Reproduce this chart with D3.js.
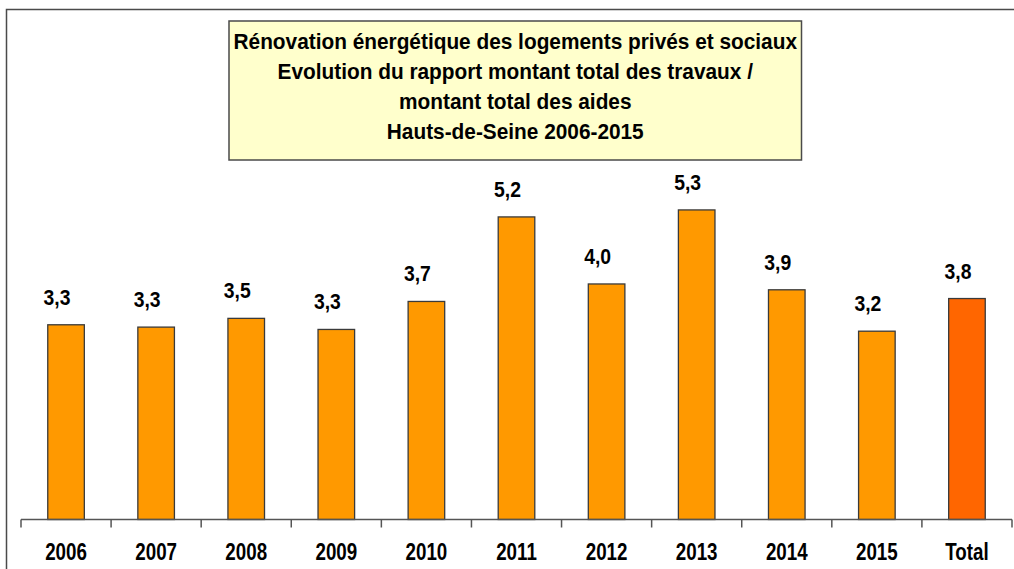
<!DOCTYPE html>
<html>
<head>
<meta charset="utf-8">
<script src="https://cdn.jsdelivr.net/npm/d3@7"></script>
<style>
  html, body { margin: 0; padding: 0; background: #fff; }
  svg { display: block; font-family: "Liberation Sans", Arial, sans-serif; }
</style>
</head>
<body>
<svg id="chart" width="1014" height="569"></svg>
<script>
// Ratio: total works amount / total aid amount, by year
const categories = ["2006", "2007", "2008", "2009", "2010", "2011", "2012", "2013", "2014", "2015", "Total"];
const ratios = [3.34, 3.30, 3.45, 3.26, 3.74, 5.19, 4.04, 5.31, 3.94, 3.23, 3.79];
const titleLines = [
  "Rénovation énergétique des logements privés et sociaux",
  "Evolution du rapport montant total des travaux /",
  "montant total des aides",
  "Hauts-de-Seine 2006-2015"
];

const svg = d3.select("#chart");
const W = 1014, H = 569;
const baseY = 519.5;

// outer frame
svg.append("rect")
  .attr("x", 6.5).attr("y", 9.5)
  .attr("width", W).attr("height", H)
  .attr("fill", "none").attr("stroke", "#4a4a4a").attr("stroke-width", 1.5);

const x = d3.scaleBand()
  .domain(categories)
  .range([21, 1012])
  .paddingInner(0.594)
  .paddingOuter(0.297);

const y = d3.scaleLinear().domain([0, 6]).range([baseY, 169.7]);

const data = categories.map((c, i) => ({ cat: c, v: ratios[i] }));

// bars
svg.append("g").selectAll("rect")
  .data(data)
  .join("rect")
  .attr("x", d => x(d.cat))
  .attr("y", d => y(d.v))
  .attr("width", x.bandwidth())
  .attr("height", d => baseY - y(d.v))
  .attr("fill", d => d.cat === "Total" ? "#FF6600" : "#FF9900")
  .attr("stroke", "#3a3a3a")
  .attr("stroke-width", 1.3);

// value labels
const fmt = v => d3.format(".1f")(v).replace(".", ",");
svg.append("g").selectAll("text")
  .data(data)
  .join("text")
  .attr("transform", d => `translate(${x(d.cat) + x.bandwidth() / 2 - 9},${y(d.v) - 20}) scale(0.9,1)`)
  .attr("text-anchor", "middle")
  .attr("font-size", 21.5)
  .attr("font-weight", "bold")
  .attr("fill", "#000")
  .text(d => fmt(d.v));

// category axis
const axis = d3.axisBottom(x).tickSizeInner(0).tickSizeOuter(0);
const gx = svg.append("g").attr("transform", `translate(0,${baseY})`).call(axis);
gx.select(".domain").remove();
gx.selectAll(".tick text")
  .attr("y", 40.5).attr("dy", 0)
  .attr("transform", "scale(0.805,1)")
  .attr("font-size", 23.3)
  .attr("font-weight", "bold")
  .attr("font-family", "Liberation Sans, Arial, sans-serif")
  .attr("fill", "#000");

// baseline and separator ticks between categories
const [r0, r1] = x.range();
gx.append("line")
  .attr("x1", r0).attr("x2", r1).attr("y1", 0).attr("y2", 0)
  .attr("stroke", "#555").attr("stroke-width", 1.5);
const bounds = d3.range(categories.length + 1).map(i => r0 + i * x.step());
gx.selectAll(".sep")
  .data(bounds)
  .join("line")
  .attr("class", "sep")
  .attr("x1", d => d).attr("x2", d => d)
  .attr("y1", 0).attr("y2", 8)
  .attr("stroke", "#555").attr("stroke-width", 1.5);

// title box
const box = { x: 229, y: 21, w: 572.5, h: 139 };
svg.append("rect")
  .attr("x", box.x).attr("y", box.y)
  .attr("width", box.w).attr("height", box.h)
  .attr("fill", "#FFFFCC").attr("stroke", "#4a4a4a").attr("stroke-width", 1.5);

const tg = svg.append("g");
const tLines = tg.selectAll("text")
  .data(titleLines)
  .join("text")
  .attr("text-anchor", "middle")
  .attr("font-size", 22)
  .attr("font-weight", "bold")
  .attr("fill", "#000")
  .attr("x", 0).attr("y", 0)
  .text(d => d);
// squeeze horizontally so the longest line fits inside the box
const w0 = tLines.nodes()[0].getComputedTextLength();
const sx = 564 / w0;
tLines.attr("transform", (d, i) => `translate(${box.x + box.w / 2},${48.5 + i * 30}) scale(${sx},1)`);
</script>
</body>
</html>
